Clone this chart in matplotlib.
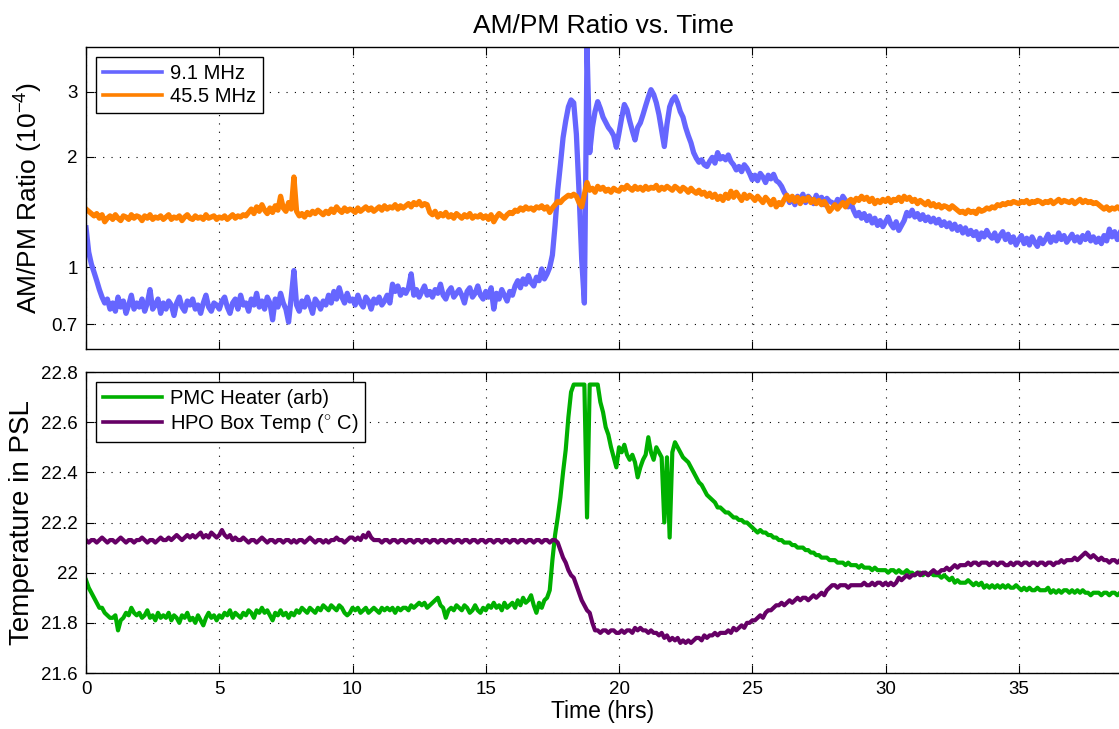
import numpy as np
import matplotlib
matplotlib.use("Agg")
import matplotlib.pyplot as plt

plt.rcParams['font.family'] = ['Liberation Sans', 'DejaVu Sans']
plt.rcParams['mathtext.fontset'] = 'custom'
plt.rcParams['mathtext.rm'] = 'Liberation Sans'
plt.rcParams['mathtext.it'] = 'Liberation Sans:italic'

# sample times (hrs), one reading every 0.1 hr
t_hr = np.round(np.arange(0, 38.85, 0.1), 1)

# AM/PM ratio (x 1e-4), 9.1 MHz sideband
amp_9mhz = [
    1.28, 1.10, 1.02, 0.97, 0.92, 0.87, 0.83, 0.80, 0.82, 0.77,
    0.80, 0.76, 0.83, 0.78, 0.81, 0.75, 0.79, 0.84, 0.77, 0.80,
    0.78, 0.82, 0.76, 0.80, 0.87, 0.77, 0.79, 0.82, 0.75, 0.80,
    0.77, 0.81, 0.79, 0.74, 0.80, 0.83, 0.78, 0.76, 0.81, 0.79,
    0.82, 0.77, 0.79, 0.75, 0.80, 0.84, 0.78, 0.76, 0.80, 0.79,
    0.77, 0.81, 0.83, 0.78, 0.75, 0.80, 0.82, 0.77, 0.84, 0.79,
    0.80, 0.76, 0.82, 0.79, 0.85, 0.78, 0.81, 0.77, 0.83, 0.80,
    0.72, 0.82, 0.78, 0.85, 0.80, 0.77, 0.71, 0.83, 0.98, 0.79,
    0.76, 0.81, 0.78, 0.83, 0.79, 0.75, 0.82, 0.80, 0.77, 0.81,
    0.79, 0.84, 0.80, 0.86, 0.82, 0.88, 0.83, 0.80, 0.85, 0.81,
    0.82, 0.79, 0.84, 0.80, 0.78, 0.83, 0.81, 0.77, 0.82, 0.80,
    0.83, 0.79, 0.81, 0.84, 0.80, 0.90, 0.86, 0.89, 0.84, 0.87,
    0.85, 0.88, 0.96, 0.84, 0.87, 0.83, 0.86, 0.89, 0.84, 0.86,
    0.83, 0.87, 0.85, 0.90, 0.84, 0.82, 0.86, 0.88, 0.83, 0.85,
    0.87, 0.84, 0.80, 0.86, 0.88, 0.83, 0.85, 0.89, 0.84, 0.82,
    0.86, 0.83, 0.88, 0.77, 0.85, 0.82, 0.87, 0.84, 0.81, 0.86,
    0.84, 0.89, 0.92, 0.88, 0.93, 0.90, 0.95, 0.91, 0.89, 0.94,
    0.92, 0.99, 0.93, 0.96, 1.00, 1.08, 1.30, 1.62, 1.90, 2.25,
    2.50, 2.73, 2.85, 2.80, 2.30, 1.60, 1.05, 0.80, 3.95, 2.05,
    2.40, 2.65, 2.82, 2.70, 2.56, 2.48, 2.40, 2.35, 2.28, 2.12,
    2.32, 2.55, 2.77, 2.68, 2.50, 2.35, 2.22, 2.40, 2.47, 2.60,
    2.75, 2.90, 3.04, 2.95, 2.80, 2.60, 2.35, 2.13, 2.45, 2.73,
    2.85, 2.91, 2.80, 2.65, 2.56, 2.40, 2.28, 2.18, 2.05, 1.98,
    1.93, 1.96, 1.90, 1.88, 1.94, 1.99, 1.92, 2.05, 1.97, 2.00,
    1.96, 2.02, 1.94, 1.90, 1.84, 1.88, 1.82, 1.90, 1.86, 1.80,
    1.73, 1.78, 1.72, 1.80, 1.76, 1.70, 1.78, 1.74, 1.79, 1.72,
    1.70, 1.66, 1.60, 1.56, 1.50, 1.55, 1.48, 1.56, 1.52, 1.58,
    1.50, 1.56, 1.53, 1.49, 1.57, 1.52, 1.55, 1.48, 1.54, 1.51,
    1.50, 1.47, 1.53, 1.49, 1.56, 1.52, 1.46, 1.50, 1.43, 1.38,
    1.41, 1.36, 1.40, 1.34, 1.38, 1.32, 1.36, 1.30, 1.34, 1.29,
    1.33, 1.37, 1.31, 1.28, 1.33, 1.26, 1.30, 1.34, 1.41, 1.38,
    1.43, 1.37, 1.40, 1.35, 1.39, 1.34, 1.37, 1.33, 1.36, 1.32,
    1.35, 1.30, 1.33, 1.29, 1.32, 1.27, 1.31, 1.26, 1.29, 1.24,
    1.28, 1.23, 1.26, 1.22, 1.25, 1.19, 1.24, 1.21, 1.26, 1.22,
    1.20, 1.24, 1.18, 1.22, 1.25, 1.19, 1.23, 1.17, 1.21, 1.15,
    1.19, 1.22, 1.16, 1.20, 1.15, 1.21, 1.17, 1.14, 1.20, 1.16,
    1.19, 1.23, 1.17, 1.21, 1.18, 1.24, 1.19, 1.22, 1.17, 1.20,
    1.23, 1.18, 1.21, 1.17, 1.22, 1.19, 1.24, 1.18, 1.21, 1.17,
    1.20, 1.16, 1.22, 1.18, 1.27, 1.21, 1.25, 1.19, 1.24,
]

# AM/PM ratio (x 1e-4), 45.5 MHz sideband
amp_45mhz = [
    1.44, 1.42, 1.40, 1.38, 1.40, 1.36, 1.39, 1.33, 1.36, 1.38,
    1.35, 1.39, 1.36, 1.34, 1.38, 1.37, 1.35, 1.39, 1.36, 1.38,
    1.37, 1.34, 1.38, 1.36, 1.39, 1.35, 1.37, 1.36, 1.38, 1.35,
    1.37, 1.39, 1.35, 1.37, 1.36, 1.38, 1.34, 1.37, 1.39, 1.36,
    1.35, 1.38, 1.36, 1.37, 1.35, 1.39, 1.36, 1.37, 1.38, 1.35,
    1.37, 1.36, 1.38, 1.35, 1.37, 1.39, 1.36, 1.38, 1.37, 1.39,
    1.38, 1.41, 1.44, 1.40, 1.46, 1.42, 1.48, 1.43, 1.40, 1.45,
    1.41, 1.47, 1.43, 1.56, 1.45, 1.42, 1.50, 1.44, 1.76, 1.42,
    1.38, 1.40, 1.37, 1.41, 1.39, 1.42, 1.40, 1.43, 1.41, 1.39,
    1.42, 1.40, 1.44, 1.41, 1.46, 1.43, 1.41, 1.45, 1.42, 1.44,
    1.43, 1.41, 1.45, 1.42, 1.44, 1.46, 1.43, 1.45, 1.42, 1.44,
    1.46, 1.43, 1.47, 1.44, 1.46, 1.45, 1.48, 1.44, 1.47, 1.45,
    1.47, 1.49, 1.46, 1.50, 1.48, 1.51, 1.47, 1.49, 1.48, 1.41,
    1.39, 1.42, 1.37, 1.40, 1.38, 1.41, 1.37, 1.39, 1.36, 1.40,
    1.38, 1.36, 1.39, 1.37, 1.40, 1.36, 1.38, 1.37, 1.39, 1.36,
    1.38, 1.35, 1.39, 1.33, 1.37, 1.40, 1.38, 1.36, 1.39, 1.41,
    1.40, 1.43, 1.42, 1.45, 1.43, 1.46, 1.44, 1.45, 1.43, 1.46,
    1.45, 1.47, 1.44, 1.46, 1.41, 1.45, 1.48, 1.51, 1.50, 1.53,
    1.55, 1.57, 1.56, 1.58, 1.56, 1.50, 1.46, 1.58, 1.70, 1.62,
    1.64, 1.60, 1.66, 1.63, 1.65, 1.61, 1.63, 1.60, 1.64, 1.62,
    1.61, 1.65, 1.63, 1.67, 1.64, 1.62, 1.66, 1.63, 1.65, 1.62,
    1.66, 1.63, 1.65, 1.64, 1.67, 1.62, 1.65, 1.63, 1.66, 1.64,
    1.62, 1.66, 1.64, 1.61, 1.65, 1.63, 1.60, 1.64, 1.61, 1.59,
    1.62, 1.58, 1.60, 1.56, 1.59, 1.55, 1.58, 1.53, 1.56, 1.52,
    1.58, 1.54, 1.61, 1.55, 1.60, 1.56, 1.52, 1.58, 1.54, 1.57,
    1.55, 1.52, 1.56, 1.53, 1.50, 1.55, 1.52, 1.48, 1.53, 1.46,
    1.50, 1.48, 1.53, 1.57, 1.52, 1.56, 1.51, 1.55, 1.49, 1.54,
    1.52, 1.55, 1.50, 1.53, 1.49, 1.52, 1.48, 1.51, 1.47, 1.42,
    1.45, 1.48, 1.44, 1.47, 1.50, 1.46, 1.51, 1.53, 1.50, 1.54,
    1.52, 1.56, 1.53, 1.55, 1.51, 1.54, 1.49, 1.52, 1.50, 1.53,
    1.51, 1.54, 1.50, 1.53, 1.52, 1.55, 1.51, 1.56, 1.53, 1.55,
    1.51, 1.53, 1.49, 1.52, 1.50, 1.48, 1.51, 1.47, 1.49, 1.46,
    1.48, 1.45, 1.47, 1.46, 1.44, 1.47, 1.45, 1.43, 1.41, 1.42,
    1.40, 1.43, 1.41, 1.42, 1.40, 1.44, 1.42, 1.43, 1.45, 1.44,
    1.46, 1.45, 1.48, 1.47, 1.49, 1.48, 1.50, 1.49, 1.51, 1.50,
    1.49, 1.51, 1.50, 1.52, 1.49, 1.51, 1.50, 1.52, 1.51, 1.49,
    1.51, 1.50, 1.52, 1.49, 1.51, 1.53, 1.50, 1.52, 1.51, 1.50,
    1.52, 1.49, 1.51, 1.53, 1.50, 1.52, 1.50, 1.51, 1.49, 1.50,
    1.48, 1.46, 1.44, 1.46, 1.43, 1.45, 1.44, 1.46, 1.44,
]

# PMC heater (arb, plotted on the temperature scale)
pmc_heater = [
    21.97, 21.94, 21.92, 21.90, 21.88, 21.86, 21.86, 21.84, 21.83, 21.82,
    21.82, 21.83, 21.77, 21.81, 21.82, 21.84, 21.83, 21.86, 21.84, 21.83,
    21.84, 21.82, 21.83, 21.85, 21.82, 21.83, 21.81, 21.84, 21.82, 21.83,
    21.82, 21.84, 21.81, 21.83, 21.82, 21.80, 21.83, 21.82, 21.84, 21.81,
    21.82, 21.80, 21.83, 21.81, 21.79, 21.82, 21.84, 21.82, 21.83, 21.81,
    21.83, 21.82, 21.84, 21.83, 21.85, 21.82, 21.84, 21.83, 21.82, 21.84,
    21.83, 21.85, 21.84, 21.82, 21.85, 21.84, 21.86, 21.84, 21.85, 21.83,
    21.81, 21.84, 21.83, 21.85, 21.83, 21.84, 21.82, 21.84, 21.83, 21.85,
    21.84, 21.86, 21.85, 21.84, 21.86, 21.85, 21.84, 21.86, 21.85, 21.87,
    21.86, 21.85, 21.87, 21.86, 21.85, 21.87, 21.86, 21.84, 21.83, 21.84,
    21.86, 21.85, 21.86, 21.84, 21.85, 21.86, 21.84, 21.85, 21.86, 21.85,
    21.84, 21.86, 21.85, 21.86, 21.85, 21.86, 21.84, 21.86, 21.85, 21.86,
    21.86, 21.85, 21.87, 21.86, 21.87, 21.88, 21.87, 21.88, 21.86, 21.87,
    21.88, 21.89, 21.90, 21.87, 21.86, 21.82, 21.85, 21.86, 21.85, 21.87,
    21.86, 21.85, 21.87, 21.86, 21.84, 21.85, 21.87, 21.85, 21.84, 21.86,
    21.85, 21.87, 21.86, 21.88, 21.86, 21.87, 21.85, 21.88, 21.86, 21.87,
    21.88, 21.86, 21.89, 21.87, 21.90, 21.88, 21.89, 21.91, 21.87, 21.84,
    21.88, 21.86, 21.89, 21.90, 21.93, 22.05, 22.15, 22.22, 22.30, 22.40,
    22.49, 22.62, 22.72, 22.75, 22.75, 22.75, 22.75, 22.75, 22.22, 22.75,
    22.75, 22.75, 22.75, 22.68, 22.64, 22.58, 22.55, 22.50, 22.46, 22.42,
    22.50, 22.48, 22.51, 22.47, 22.45, 22.47, 22.44, 22.38, 22.42, 22.45,
    22.47, 22.54, 22.48, 22.45, 22.50, 22.48, 22.46, 22.20, 22.46, 22.14,
    22.48, 22.52, 22.50, 22.48, 22.46, 22.45, 22.44, 22.42, 22.40, 22.38,
    22.36, 22.35, 22.33, 22.31, 22.30, 22.29, 22.28, 22.26, 22.26, 22.25,
    22.24, 22.24, 22.23, 22.22, 22.22, 22.21, 22.21, 22.20, 22.20, 22.19,
    22.18, 22.17, 22.16, 22.17, 22.16, 22.16, 22.15, 22.15, 22.14, 22.14,
    22.13, 22.13, 22.12, 22.12, 22.12, 22.11, 22.11, 22.10, 22.10, 22.10,
    22.09, 22.09, 22.08, 22.08, 22.07, 22.07, 22.06, 22.06, 22.06, 22.05,
    22.05, 22.05, 22.04, 22.04, 22.04, 22.03, 22.04, 22.03, 22.03, 22.03,
    22.02, 22.03, 22.02, 22.02, 22.02, 22.01, 22.02, 22.01, 22.01, 22.01,
    22.01, 22.00, 22.01, 22.01, 22.00, 22.01, 22.00, 22.00, 22.01, 22.00,
    22.00, 21.99, 22.00, 22.00, 21.99, 22.00, 21.99, 22.00, 21.99, 21.99,
    21.99, 21.98, 21.99, 21.98, 21.97, 21.98, 21.96, 21.97, 21.96, 21.96,
    21.96, 21.97, 21.96, 21.95, 21.96, 21.95, 21.96, 21.94, 21.95, 21.94,
    21.95, 21.94, 21.95, 21.94, 21.95, 21.94, 21.95, 21.94, 21.94, 21.95,
    21.94, 21.93, 21.94, 21.93, 21.94, 21.93, 21.93, 21.94, 21.93, 21.93,
    21.93, 21.94, 21.92, 21.93, 21.92, 21.93, 21.92, 21.93, 21.93, 21.92,
    21.93, 21.92, 21.93, 21.92, 21.93, 21.92, 21.92, 21.91, 21.92, 21.92,
    21.92, 21.91, 21.92, 21.92, 21.91, 21.92, 21.92, 21.91, 21.92,
]

# HPO box temperature (deg C)
hpo_temp = [
    22.13, 22.12, 22.13, 22.13, 22.12, 22.13, 22.14, 22.13, 22.12, 22.13,
    22.13, 22.12, 22.13, 22.14, 22.13, 22.12, 22.13, 22.13, 22.12, 22.13,
    22.13, 22.14, 22.13, 22.12, 22.13, 22.13, 22.12, 22.13, 22.14, 22.13,
    22.13, 22.14, 22.13, 22.14, 22.15, 22.14, 22.13, 22.14, 22.15, 22.14,
    22.15, 22.14, 22.15, 22.16, 22.14, 22.15, 22.14, 22.16, 22.15, 22.14,
    22.15, 22.17, 22.15, 22.14, 22.15, 22.13, 22.14, 22.13, 22.13, 22.14,
    22.13, 22.12, 22.13, 22.13, 22.12, 22.13, 22.14, 22.13, 22.12, 22.13,
    22.13, 22.12, 22.13, 22.13, 22.12, 22.13, 22.13, 22.12, 22.13, 22.12,
    22.13, 22.13, 22.12, 22.13, 22.14, 22.13, 22.12, 22.13, 22.13, 22.12,
    22.13, 22.12, 22.13, 22.13, 22.14, 22.13, 22.13, 22.12, 22.13, 22.14,
    22.14, 22.13, 22.14, 22.13, 22.15, 22.14, 22.16, 22.14, 22.13, 22.13,
    22.13, 22.12, 22.13, 22.13, 22.12, 22.13, 22.13, 22.12, 22.13, 22.13,
    22.12, 22.13, 22.13, 22.12, 22.13, 22.13, 22.12, 22.13, 22.13, 22.12,
    22.13, 22.13, 22.12, 22.13, 22.13, 22.12, 22.13, 22.13, 22.12, 22.13,
    22.13, 22.12, 22.13, 22.13, 22.12, 22.13, 22.13, 22.12, 22.13, 22.13,
    22.12, 22.13, 22.13, 22.12, 22.13, 22.13, 22.12, 22.13, 22.13, 22.12,
    22.13, 22.13, 22.12, 22.13, 22.13, 22.12, 22.13, 22.13, 22.12, 22.13,
    22.13, 22.12, 22.13, 22.13, 22.12, 22.13, 22.13, 22.12, 22.09, 22.06,
    22.04, 22.01, 21.99, 21.98, 21.95, 21.92, 21.89, 21.87, 21.85, 21.84,
    21.80, 21.77, 21.77, 21.76, 21.77, 21.77, 21.76, 21.77, 21.77, 21.76,
    21.76, 21.77, 21.76, 21.77, 21.77, 21.76, 21.78, 21.77, 21.78, 21.77,
    21.77, 21.76, 21.77, 21.76, 21.76, 21.75, 21.76, 21.74, 21.75, 21.73,
    21.74, 21.73, 21.74, 21.72, 21.73, 21.72, 21.73, 21.72, 21.73, 21.74,
    21.74, 21.73, 21.75, 21.74, 21.75, 21.75, 21.76, 21.75, 21.76, 21.76,
    21.76, 21.77, 21.76, 21.78, 21.77, 21.78, 21.79, 21.78, 21.80, 21.80,
    21.81, 21.81, 21.82, 21.83, 21.82, 21.84, 21.85, 21.85, 21.86, 21.87,
    21.87, 21.88, 21.87, 21.88, 21.89, 21.88, 21.89, 21.90, 21.89, 21.90,
    21.90, 21.89, 21.90, 21.91, 21.90, 21.91, 21.92, 21.91, 21.93, 21.94,
    21.95, 21.95, 21.94, 21.95, 21.95, 21.95, 21.94, 21.95, 21.95, 21.95,
    21.95, 21.95, 21.96, 21.95, 21.95, 21.96, 21.95, 21.96, 21.96, 21.95,
    21.96, 21.95, 21.96, 21.95, 21.96, 21.98, 21.97, 21.98, 21.99, 21.98,
    21.99, 21.99, 22.00, 21.99, 22.00, 22.00, 21.99, 22.00, 22.01, 22.00,
    22.00, 22.01, 22.01, 22.02, 22.01, 22.02, 22.03, 22.02, 22.03, 22.03,
    22.03, 22.04, 22.03, 22.04, 22.04, 22.03, 22.04, 22.04, 22.04, 22.03,
    22.04, 22.04, 22.03, 22.04, 22.04, 22.03, 22.03, 22.04, 22.03, 22.04,
    22.04, 22.03, 22.04, 22.04, 22.03, 22.04, 22.04, 22.03, 22.04, 22.04,
    22.03, 22.04, 22.04, 22.03, 22.04, 22.04, 22.05, 22.04, 22.05, 22.05,
    22.05, 22.06, 22.05, 22.06, 22.07, 22.08, 22.07, 22.06, 22.07, 22.06,
    22.05, 22.06, 22.05, 22.05, 22.04, 22.05, 22.05, 22.04, 22.05,
]

ratio_ticks = [0.7, 1, 2, 3]
ratio_ticklabels = ['0.7', '1', '2', '3']
temp_ticks = [21.6, 21.8, 22.0, 22.2, 22.4, 22.6, 22.8]
temp_ticklabels = ['21.6', '21.8', '22', '22.2', '22.4', '22.6', '22.8']
time_ticks = [0, 5, 10, 15, 20, 25, 30, 35]


def matlab_style(ax):
    # inward ticks on every side, dotted grid like the old matlab plots
    ax.tick_params(direction='in', length=6, width=0.8, top=True, right=True,
                   labelsize=13.5, colors='black', pad=6)
    ax.grid(True, linestyle=(0, (1, 6.5)), color='black', linewidth=0.8)
    for s in ax.spines.values():
        s.set_linewidth(1.0)
    ax.set_xlim(0, 38.8)
    ax.set_xticks(time_ticks)


def boxed_legend(ax):
    leg = ax.legend(loc='upper left', fontsize=14.5, fancybox=False, edgecolor='black',
                    framealpha=1, handlelength=2.9, handletextpad=0.4,
                    borderaxespad=0.5, labelspacing=0.2, borderpad=0.35)
    leg.get_frame().set_linewidth(1.0)
    # legend handles are thinner than the plotted traces
    for ln in leg.get_lines():
        ln.set_linewidth(2.6)
    return leg


fig = plt.figure(figsize=(11.19, 7.29), dpi=100)
ax1 = fig.add_axes([0.0769, 0.5213, 0.9240, 0.4142])
ax2 = fig.add_axes([0.0769, 0.0768, 0.9240, 0.4129])

# top panel - AM/PM ratio on log scale
ax1.plot(t_hr, amp_9mhz, color='#6666ff', linewidth=3.8, label='9.1 MHz')
ax1.plot(t_hr, amp_45mhz, color='#ff8000', linewidth=3.8, label='45.5 MHz')
ax1.set_yscale('log')
ax1.set_ylim(0.6, 3.97)
ax1.set_yticks(ratio_ticks)
ax1.set_yticklabels(ratio_ticklabels)
ax1.yaxis.set_minor_locator(matplotlib.ticker.NullLocator())
matlab_style(ax1)
ax1.set_xticklabels([])
ax1.set_ylabel('AM/PM Ratio (10$^{-4}$)', fontsize=19, labelpad=5)
ax1.set_title('AM/PM Ratio vs. Time', fontsize=19, pad=10)
boxed_legend(ax1)

# bottom panel - temperatures
ax2.plot(t_hr, pmc_heater, color='#00b000', linewidth=3.0, label='PMC Heater (arb)')
ax2.plot(t_hr, hpo_temp, color='#660066', linewidth=3.0, label='HPO Box Temp ($^{\\circ}$ C)')
ax2.set_ylim(21.6, 22.8)
ax2.set_yticks(temp_ticks)
ax2.set_yticklabels(temp_ticklabels)
matlab_style(ax2)
ax2.set_xticklabels([str(v) for v in time_ticks])
ax2.set_xlabel('Time (hrs)', fontsize=16.5, labelpad=1)
ax2.set_ylabel('Temperature in PSL', fontsize=20, labelpad=4)
boxed_legend(ax2)

fig.savefig('out.png', dpi=100)
